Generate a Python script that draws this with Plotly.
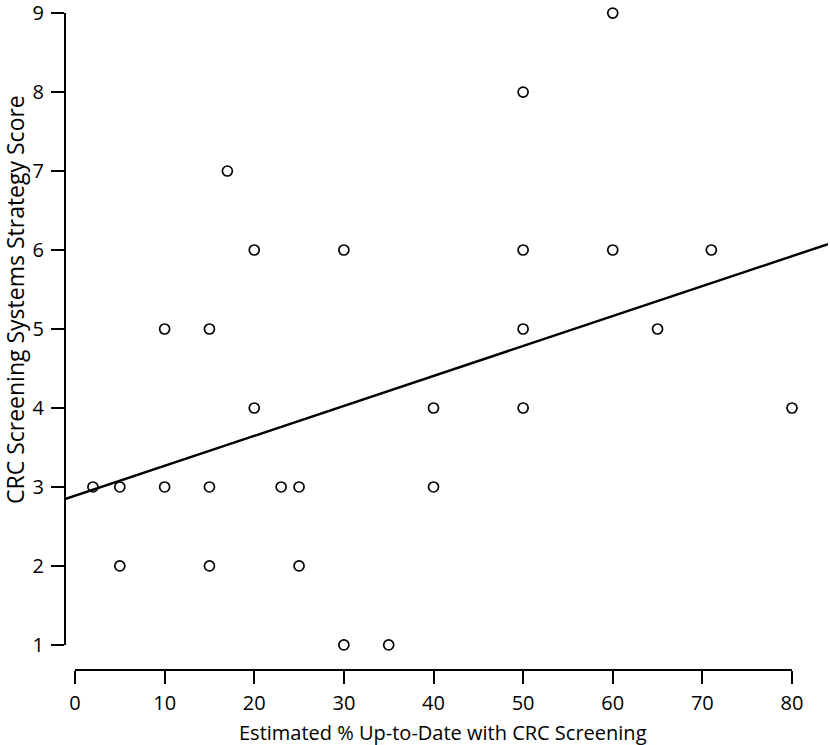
import plotly.graph_objects as go

# Data
pct_up_to_date = [2, 5, 5, 10, 10, 15, 15, 15, 17, 20, 20, 23, 25, 25, 30, 30, 35,
                  40, 40, 50, 50, 50, 50, 60, 60, 65, 71, 80]
strategy_score = [3, 3, 2, 5, 3, 5, 3, 2, 7, 6, 4, 3, 3, 2, 6, 1, 1,
                  4, 3, 8, 6, 5, 4, 9, 6, 5, 6, 4]
fit_intercept = 2.89
fit_slope = 0.0379
x_ticks = [0, 10, 20, 30, 40, 50, 60, 70, 80]
y_ticks = [1, 2, 3, 4, 5, 6, 7, 8, 9]

W, H = 830, 745
L, R, T, B = 65, 2, 5, 75
pw, ph = W - L - R, H - T - B

# pixel geometry of the printed axes
x0px, x80px = 75, 792
y1px, y9px = 645, 13
sx = (x80px - x0px) / 80.0
sy = (y1px - y9px) / 8.0
xr = [(L - x0px) / sx, (W - R - x0px) / sx]
yr = [1 - ((H - B) - y1px) / sy, 9 + (y9px - T) / sy]

FONT = "Open Sans"
EPS = 0.0005

fig = go.Figure()

# regression line on the wide axes
lx = [xr[0], xr[1]]
ly = [fit_intercept + fit_slope * v for v in lx]
fig.add_trace(go.Scatter(x=lx, y=ly, mode="lines",
                         line=dict(color="black", width=2.4),
                         xaxis="x", yaxis="y", showlegend=False, hoverinfo="skip"))

# points on the printed axes
fig.add_trace(go.Scatter(x=pct_up_to_date, y=strategy_score, mode="markers",
                         marker=dict(symbol="circle-open", size=10, color="black",
                                     line=dict(width=1.7, color="black")),
                         xaxis="x2", yaxis="y2", cliponaxis=False,
                         showlegend=False))

xd = [(x0px - L) / pw, (x80px - L) / pw]
yd = [((H - B) - y1px) / ph, ((H - B) - y9px) / ph]

fig.update_layout(
    width=W, height=H,
    margin=dict(l=L, r=R, t=T, b=B, autoexpand=False),
    paper_bgcolor="white", plot_bgcolor="rgba(0,0,0,0)",
    font=dict(family=FONT, color="black", size=20),
    xaxis=dict(domain=[0, 1], range=xr, visible=False, fixedrange=True, automargin=False),
    yaxis=dict(domain=[0, 1], range=yr, visible=False, fixedrange=True, automargin=False),
    xaxis2=dict(domain=xd, range=[0 - EPS, 80 + EPS], anchor="free", position=0,
                showline=True, linecolor="black", linewidth=2,
                ticks="outside", ticklen=13, tickwidth=2, tickcolor="black",
                tickvals=x_ticks, showgrid=False, zeroline=False,
                ticklabeloverflow="allow", automargin=False,
                tickfont=dict(family=FONT, size=20), ticklabelstandoff=2),
    yaxis2=dict(domain=yd, range=[1 - EPS, 9 + EPS], anchor="free", position=0,
                showline=True, linecolor="black", linewidth=2,
                ticks="outside", ticklen=13, tickwidth=2, tickcolor="black",
                tickvals=y_ticks, showgrid=False, zeroline=False,
                ticklabeloverflow="allow", automargin=False,
                tickfont=dict(family=FONT, size=20), ticklabelstandoff=3),
    annotations=[
        dict(text="Estimated % Up-to-Date with CRC Screening", xref="paper", yref="paper",
             x=(443 - L) / pw, y=((H - B) - 732) / ph, xanchor="center", yanchor="middle",
             showarrow=False, font=dict(family=FONT, size=20)),
        dict(text="CRC Screening Systems Strategy Score", xref="paper", yref="paper",
             x=(15 - L) / pw, y=((H - B) - 300) / ph, xanchor="center", yanchor="middle",
             textangle=-90, showarrow=False, font=dict(family=FONT, size=23)),
    ],
)

fig.write_html("out.html", config={"displayModeBar": False},
               post_script="document.body.style.margin='0';document.body.style.overflow='hidden';")
